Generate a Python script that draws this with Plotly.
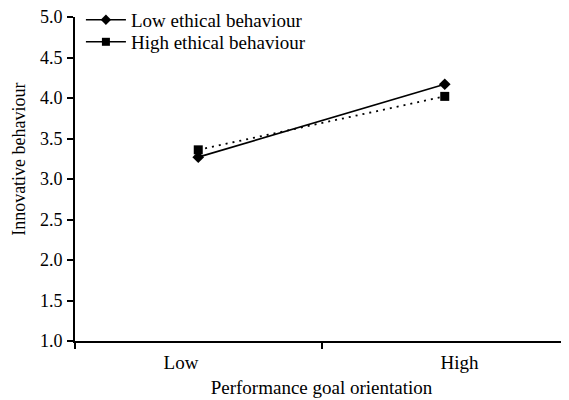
import plotly.graph_objects as go

categories = ["Low", "High"]
low_ethical = [3.27, 4.17]
high_ethical = [3.36, 4.02]
series_names = ["Low ethical behaviour", "High ethical behaviour"]
y_ticks = [1.0, 1.5, 2.0, 2.5, 3.0, 3.5, 4.0, 4.5, 5.0]

x_pos = [0.5, 1.5]           # category centres
label_pos = [0.43, 1.56]     # where the category labels sit in the reference
FONT = "Liberation Serif, Times New Roman, serif"

fig = go.Figure()
fig.add_trace(go.Scatter(x=x_pos, y=low_ethical, mode="lines+markers",
                         line=dict(color="black", width=1.6),
                         marker=dict(symbol="diamond", size=9, color="black"),
                         showlegend=False))
fig.add_trace(go.Scatter(x=x_pos, y=high_ethical, mode="lines+markers",
                         line=dict(color="black", width=1.8, dash="2px,5px"),
                         marker=dict(symbol="square", size=9, color="black"),
                         showlegend=False))
# legend entries (solid line samples as in the reference)
fig.add_trace(go.Scatter(x=[None], y=[None], mode="lines+markers", name=series_names[0],
                         line=dict(color="black", width=1.6),
                         marker=dict(symbol="diamond", size=8, color="black"),
                         legend="legend"))
fig.add_trace(go.Scatter(x=[None], y=[None], mode="lines+markers", name=series_names[1],
                         line=dict(color="black", width=1.6),
                         marker=dict(symbol="square", size=8, color="black"),
                         legend="legend2"))

legend_style = dict(xanchor="left", yanchor="middle", bgcolor="rgba(0,0,0,0)",
                    font=dict(size=19, family=FONT), itemwidth=40)

fig.update_layout(
    width=561, height=392,
    margin=dict(l=67, r=1, t=9, b=59, autoexpand=False),
    paper_bgcolor="white", plot_bgcolor="white",
    font=dict(family=FONT, size=18, color="black"),
    legend=dict(x=0.012, y=0.991, **legend_style),
    legend2=dict(x=0.012, y=0.923, **legend_style),
    xaxis=dict(range=[0, 2], tickvals=label_pos, ticktext=categories, ticks="",
               showline=True, linecolor="black", linewidth=2, showgrid=False,
               zeroline=False, ticklabelstandoff=3, automargin=False,
               tickfont=dict(size=19),
               minor=dict(tick0=0, dtick=1, ticks="outside", ticklen=6,
                          tickcolor="black", tickwidth=2, showgrid=False),
               title=dict(text="Performance goal orientation", standoff=9,
                          font=dict(size=19, family=FONT))),
    yaxis=dict(range=[1, 5], tickvals=y_ticks, ticktext=[f"{v:.1f}" for v in y_ticks],
               ticks="outside", ticklen=6, tickwidth=2, tickcolor="black",
               showline=True, linecolor="black", linewidth=2, showgrid=False,
               zeroline=False, ticklabelstandoff=1, automargin=False,
               ticklabeloverflow="allow"),
    annotations=[dict(text="Innovative behaviour", textangle=-90,
                      xref="paper", yref="paper", x=-0.115, y=0.56,
                      xanchor="center", yanchor="middle", showarrow=False,
                      font=dict(size=18, family=FONT))],
)

fig.write_html("out.html")
